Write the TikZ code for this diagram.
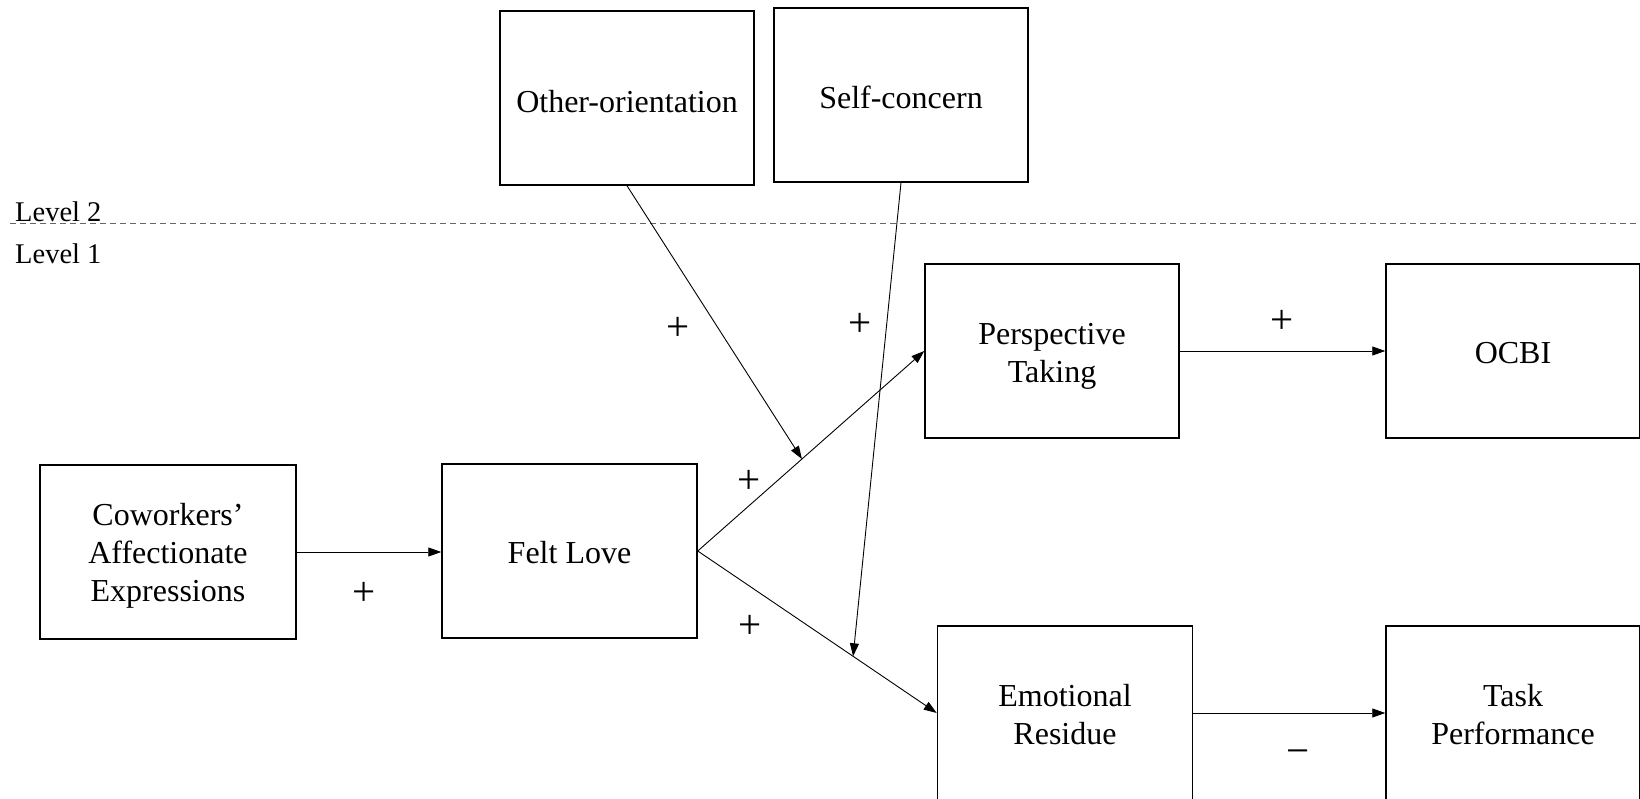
\documentclass[tikz,border=0pt]{standalone}
\usepackage{fontspec}
\setmainfont{Liberation Serif}
\usetikzlibrary{arrows.meta,calc}
\newcommand\boxtxt[2][-5pt]{\raisebox{#1}[\height][\depth]{\begin{tabular}{@{}c@{}}#2\end{tabular}}}
\begin{document}
\begin{tikzpicture}[x=1pt,y=-1pt,
  box/.style={draw,line width=1.5pt,minimum width=254pt,minimum height=174pt,inner sep=0pt,font=\fontsize{32}{37.6}\selectfont},
  conn/.style={line width=0.9pt,-{Triangle[length=13pt,width=9pt]}},
  sign/.style={font=\fontsize{41}{41}\selectfont,inner sep=0pt},
  lvl/.style={font=\fontsize{28.5}{30}\selectfont,anchor=west,inner sep=0pt},
  levelline/.style={gray!80!black,line width=1pt,dash pattern=on 6pt off 4pt}]
\useasboundingbox (0,0) rectangle (1640,799);
\clip (0,0) rectangle (1640,799);
\node[box] (other) at (627,98) {\boxtxt[-7pt]{Other-orientation}};
\node[box] (self) at (901,95) {\boxtxt[-6pt]{Self-concern}};
\node[box] (pt) at (1052,351) {\boxtxt{Perspective\\Taking}};
\node[box] (ocbi) at (1513,351) {\boxtxt{OCBI}};
\node[box,minimum width=256pt] (cow) at (168,552) {\boxtxt[-4pt]{Coworkers’\\Affectionate\\Expressions}};
\node[box,minimum width=255pt] (felt) at (569.5,551) {\boxtxt{Felt Love}};
\node[box,minimum width=255pt] (er) at (1065,713) {\boxtxt{Emotional\\Residue}};
\node[box] (tp) at (1513,713) {\boxtxt{Task\\Performance}};
\coordinate (lineL) at (10,224);
\coordinate (lineR) at (1640,224);
\draw[levelline] (lineL) -- (lineR);
\node[lvl] (lv2) at (15,212) {Level 2};
\node[lvl] (lv1) at (15,254) {Level 1};
\draw[conn] (cow.east) -- (cow.east -| felt.west);
\draw[conn] (felt.east) -- (pt.west);
\draw[conn] (felt.east) -- (er.west);
\draw[conn] (pt.east) -- (ocbi.west);
\draw[conn] (er.east) -- (tp.west);
\coordinate (m1) at ($(felt.east)!0.46!(pt.west)$);
\coordinate (m2) at ($(felt.east)!0.65!(er.west)$);
\draw[conn] (other.south) -- (m1);
\draw[conn] (self.south) -- (m2);
\node[sign] (p1) at (678,329) {+};
\node[sign] (p2) at (860,325) {+};
\node[sign] (p3) at (749,482) {+};
\node[sign] (p4) at (750,627) {+};
\node[sign] (p5) at (364,594) {+};
\node[sign] (p6) at (1282,322) {+};
\node[sign] (m) at (1298,757) {−};
\end{tikzpicture}
\end{document}
